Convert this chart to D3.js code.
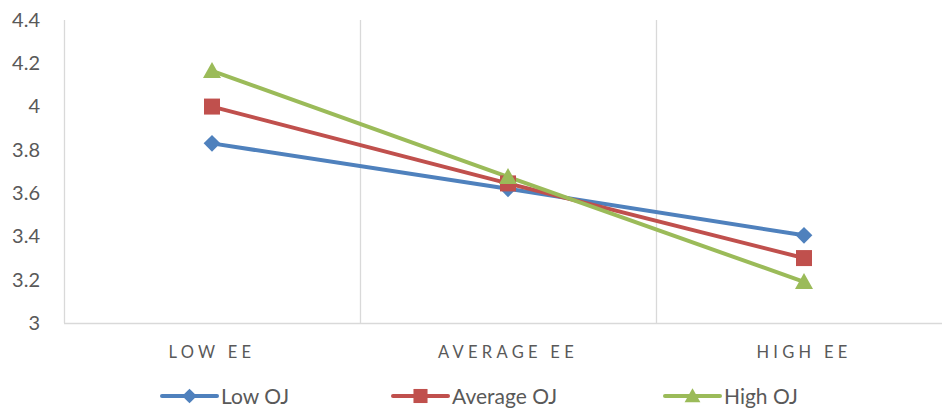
<!DOCTYPE html>
<html>
<head>
<meta charset="utf-8">
<script src="https://cdn.jsdelivr.net/npm/d3@7"></script>
<style>
body{margin:0;background:#fff;}
svg{display:block;}
</style>
</head>
<body>
<svg id="chart" width="942" height="409"></svg>
<script>
const categories = ["LOW EE", "AVERAGE EE", "HIGH EE"];
const seriesNames = ["Low OJ", "Average OJ", "High OJ"];
const lowOJ = [3.83, 3.62, 3.405];
const averageOJ = [4.00, 3.645, 3.30];
const highOJ = [4.165, 3.675, 3.19];
const yTicks = [3, 3.2, 3.4, 3.6, 3.8, 4, 4.2, 4.4];
const colors = ["#4F81BD", "#C0504D", "#9BBB59"];
const symbolNames = ["diamond", "square", "triangle"];

const series = [lowOJ, averageOJ, highOJ].map((v, i) => ({name: seriesNames[i], values: v, color: colors[i], symbol: symbolNames[i]}));

const svg = d3.select("#chart");
const mLeft = 64, mRight = 952, mTop = 20, mBottom = 323;
const font = "Lato, 'Open Sans', sans-serif";

const x = d3.scaleBand().domain(categories).range([mLeft, mRight]);
const y = d3.scaleLinear().domain([3, 4.4]).range([mBottom, mTop]);

function markerPath(name, k) {
  if (name === "diamond") return d3.symbol().type(d3.symbolSquare).size(140 * k * k)();
  if (name === "square") return d3.symbol().type(d3.symbolSquare).size(256 * k * k)();
  const w = 18 * k, h = 16 * k;
  return `M0,${-h * 0.55}L${w / 2},${h * 0.45}L${-w / 2},${h * 0.45}Z`;
}
function markerRot(name) { return name === "diamond" ? " rotate(45)" : ""; }

// vertical gridlines at category boundaries
svg.append("g").selectAll("line").data(categories.slice(1)).join("line")
  .attr("x1", d => x(d) + 0.5).attr("x2", d => x(d) + 0.5)
  .attr("y1", mTop).attr("y2", mBottom)
  .attr("stroke", "#d9d9d9").attr("stroke-width", 1.3);

// left axis line
svg.append("line").attr("x1", mLeft + 0.5).attr("x2", mLeft + 0.5).attr("y1", mTop).attr("y2", mBottom)
  .attr("stroke", "#d9d9d9").attr("stroke-width", 1.3);
// bottom axis line
svg.append("line").attr("x1", mLeft).attr("x2", mRight).attr("y1", mBottom + 0.5).attr("y2", mBottom + 0.5)
  .attr("stroke", "#d9d9d9").attr("stroke-width", 1.3);

// y tick labels
const yAxis = d3.axisLeft(y).tickValues(yTicks).tickSize(0).tickPadding(24).tickFormat(d3.format("~g"));
const ya = svg.append("g").attr("transform", `translate(${mLeft},0)`).call(yAxis);
ya.select(".domain").remove();
ya.selectAll("text").attr("font-family", font).attr("font-size", 20).attr("fill", "#595959");

// x labels
const xAxis = d3.axisBottom(x).tickSize(0).tickPadding(23);
const xa = svg.append("g").attr("transform", `translate(0,${mBottom})`).call(xAxis);
xa.select(".domain").remove();
xa.selectAll("text").attr("font-family", font).attr("font-size", 16.5).attr("fill", "#595959")
  .attr("letter-spacing", "4.3px");

// lines
const line = d3.line().x((d, i) => x(categories[i]) + x.bandwidth() / 2).y(d => y(d));
series.forEach(s => {
  svg.append("path").datum(s.values).attr("d", line)
    .attr("fill", "none").attr("stroke", s.color).attr("stroke-width", 4).attr("stroke-linejoin", "round").attr("stroke-linecap", "round");
});
series.forEach(s => {
  svg.append("g").selectAll("path").data(s.values).join("path")
    .attr("transform", (d, i) => `translate(${x(categories[i]) + x.bandwidth() / 2},${y(d)})${markerRot(s.symbol)}`)
    .attr("d", markerPath(s.symbol, 1))
    .attr("fill", s.color);
});

// legend
const legendX = [162, 393, 665];
const lg = svg.append("g").attr("transform", "translate(0,396)");
series.forEach((s, i) => {
  const g = lg.append("g").attr("transform", `translate(${legendX[i]},0)`);
  g.append("line").attr("x1", 0).attr("x2", 55).attr("y1", 0).attr("y2", 0)
    .attr("stroke", s.color).attr("stroke-width", 4).attr("stroke-linecap", "round");
  g.append("path").attr("transform", `translate(27.5,0)${markerRot(s.symbol)}`)
    .attr("d", markerPath(s.symbol, 0.88))
    .attr("fill", s.color);
  g.append("text").attr("x", 59).attr("y", 8)
    .attr("font-family", font).attr("font-size", 21).attr("fill", "#595959").text(s.name);
});
</script>
</body>
</html>
